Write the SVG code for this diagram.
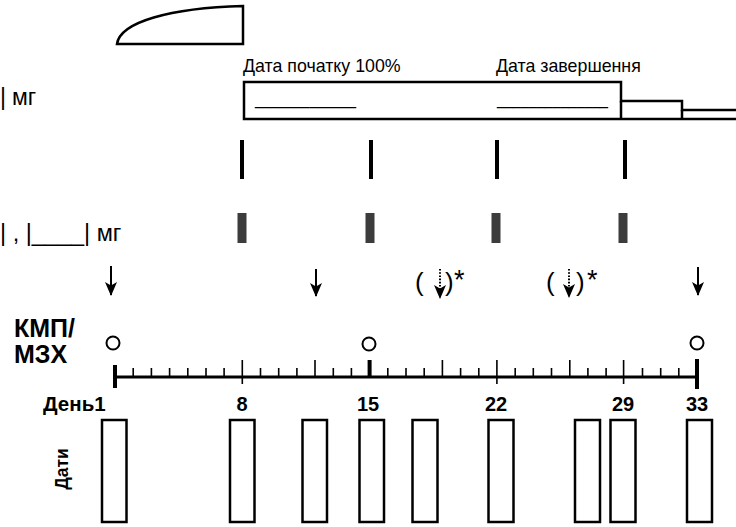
<svg xmlns="http://www.w3.org/2000/svg" width="736" height="527" viewBox="0 0 736 527">
  <style>
    .ln { fill: none; stroke: #000; stroke-width: 2.5; }
    .box { fill: #fff; stroke: #000; stroke-width: 2.5; }
    .t { font-family: "Liberation Sans", Arial, sans-serif; fill: #000; }
    .b { font-weight: bold; }
    .tick { stroke: #000; stroke-width: 1.6; }
    .thick { stroke: #000; stroke-width: 4; }
    .bar { fill: #000; }
    .gbar { fill: #3c3c3c; }
    .arr { stroke: #000; stroke-width: 2; fill: none; }
    .dot { stroke: #000; stroke-width: 2; fill: none; stroke-dasharray: 1.6 1.6; }
    .circ { fill: #fff; stroke: #000; stroke-width: 2; }
  </style>
  <defs>
    <marker id="head" markerUnits="userSpaceOnUse" markerWidth="12" markerHeight="15" refX="6" refY="13" orient="0" viewBox="0 0 12 15">
      <path d="M0,0 L6,3.5 L12,0 L6,14 Z" fill="#000"/>
    </marker>
  </defs>
  <rect width="736" height="527" fill="#fff"/>

  <!-- loading phase shape -->
  <g id="loading">
    <path class="ln" d="M117,44 C120,22 170,8 243,6 V44 Z"/>
  </g>

  <!-- dose row 1 -->
  <g id="dose-row-1">
    <text class="t" x="0" y="105" font-size="23">|</text>
    <text class="t" x="12" y="105" font-size="23">мг</text>
  </g>

  <!-- stepped dosing bar with dates -->
  <g id="dosing-bar">
    <text class="t" x="243" y="72" font-size="17.8">Дата початку 100%</text>
    <text class="t" x="496" y="72" font-size="17.8">Дата завершення</text>
    <path class="box" d="M244,82 H621 V101 H682 V110 H740 V119 H244 Z"/>
    <path class="ln" d="M621,101 V119 M682,110 V119"/>
    <text class="t" x="255" y="105" font-size="16" textLength="101" lengthAdjust="spacingAndGlyphs">_____________</text>
    <text class="t" x="497" y="105" font-size="16" textLength="111" lengthAdjust="spacingAndGlyphs">______________</text>
  </g>

  <!-- row 2 markers -->
  <g id="row-2">
    <rect class="bar" x="240" y="140" width="4" height="39"/>
    <rect class="bar" x="369" y="140" width="4" height="39"/>
    <rect class="bar" x="495" y="140" width="4" height="39"/>
    <rect class="bar" x="623" y="140" width="4" height="39"/>
  </g>

  <!-- row 3 markers and dose label -->
  <g id="row-3">
    <text class="t" x="0" y="241" font-size="23.5">| , |____| мг</text>
    <rect class="gbar" x="237.5" y="213" width="9" height="30"/>
    <rect class="gbar" x="365.5" y="213" width="9" height="30"/>
    <rect class="gbar" x="491.5" y="213" width="9" height="30"/>
    <rect class="gbar" x="618.5" y="213" width="9" height="30"/>
  </g>

  <!-- dosing arrows -->
  <g id="connectors">
    <line class="arr" x1="111" y1="266" x2="111" y2="295" marker-end="url(#head)"/>
    <line class="arr" x1="316" y1="269" x2="316" y2="296" marker-end="url(#head)"/>
    <line class="arr" x1="698" y1="267" x2="698" y2="295" marker-end="url(#head)"/>
    <line class="dot" x1="440" y1="269" x2="440" y2="298" marker-end="url(#head)"/>
    <line class="dot" x1="569" y1="269" x2="569" y2="297" marker-end="url(#head)"/>
  </g>

  <g id="optional-19">
    <text class="t" x="415" y="291" font-size="26">(</text>
    <text class="t" x="445" y="291" font-size="26">)</text>
    <text class="t" x="454" y="289" font-size="27">*</text>
  </g>
  <g id="optional-26">
    <text class="t" x="546" y="291" font-size="26">(</text>
    <text class="t" x="576" y="291" font-size="26">)</text>
    <text class="t" x="587" y="289" font-size="27">*</text>
  </g>

  <!-- assessment label and circles -->
  <g id="assessment">
    <text class="t b" x="14" y="337" font-size="25">КМП/</text>
    <text class="t b" x="14" y="363" font-size="25">МЗХ</text>
    <circle class="circ" cx="113" cy="343" r="6.5"/>
    <circle class="circ" cx="369" cy="344" r="6.5"/>
    <circle class="circ" cx="697" cy="343" r="6.5"/>
  </g>

  <!-- day axis -->
  <g id="axis">
    <line stroke="#000" stroke-width="3" x1="115" y1="377" x2="697" y2="377"/>
    <path class="tick" d="
      M133.2,368 V377 M151.4,368 V377 M169.6,368 V377 M187.8,368 V377 M206,368 V377 M224.1,368 V377
      M260.5,368 V377 M278.7,368 V377 M296.9,368 V377 M333.3,368 V377 M351.4,368 V377
      M387.8,368 V377 M406,368 V377 M424.2,368 V377 M460.6,368 V377 M478.8,368 V377
      M515.2,368 V377 M533.3,368 V377 M551.5,368 V377 M587.9,368 V377 M606.1,368 V377
      M642.5,368 V377 M660.7,368 V377 M678.8,368 V377
      M315,360 V377 M442.4,360 V377 M569.8,360 V377
      M242.3,360 V384 M496.9,360 V384 M623.6,360 V384"/>
    <path class="thick" d="M115,365 V388 M369.6,360 V377 M697,359 V389"/>
    <text class="t b" x="43" y="411" font-size="20.5">День1</text>
    <text class="t b" x="242" y="411" font-size="20" text-anchor="middle">8</text>
    <text class="t b" x="368" y="411" font-size="20" text-anchor="middle">15</text>
    <text class="t b" x="496" y="411" font-size="20" text-anchor="middle">22</text>
    <text class="t b" x="623" y="411" font-size="20" text-anchor="middle">29</text>
    <text class="t b" x="697" y="411" font-size="20" text-anchor="middle">33</text>
  </g>

  <!-- date boxes -->
  <g id="dates">
    <text class="t b" font-size="17.5" transform="translate(68,469) rotate(-90)" text-anchor="middle">Дати</text>
    <rect class="box" x="102" y="420" width="24.5" height="102"/>
    <rect class="box" x="230" y="420" width="24.5" height="102"/>
    <rect class="box" x="302.5" y="420" width="24.5" height="102"/>
    <rect class="box" x="359.5" y="420" width="24.5" height="102"/>
    <rect class="box" x="412.5" y="420" width="25" height="102"/>
    <rect class="box" x="488.5" y="420" width="25" height="102"/>
    <rect class="box" x="575" y="420" width="25" height="102"/>
    <rect class="box" x="610.5" y="420" width="25" height="102"/>
    <rect class="box" x="687" y="420" width="25" height="102"/>
  </g>
</svg>
